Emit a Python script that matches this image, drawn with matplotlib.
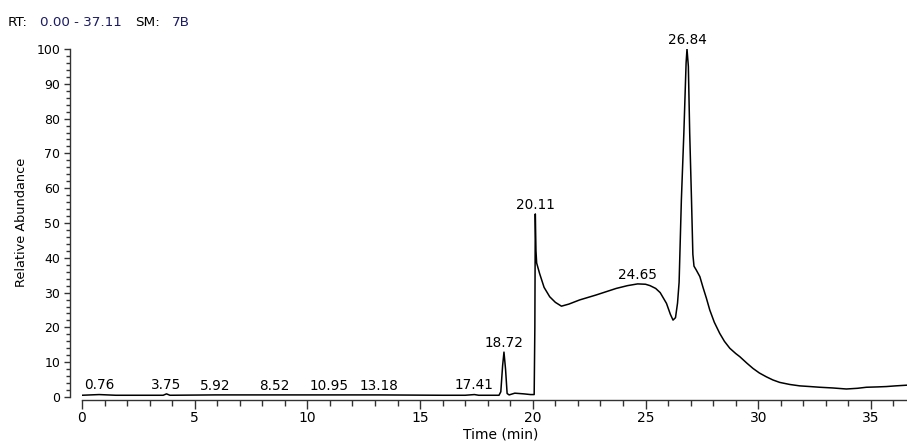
import numpy as np
import matplotlib
matplotlib.use("Agg")
import matplotlib.pyplot as plt
from matplotlib.ticker import MultipleLocator

plt.rcParams['font.family'] = ['DejaVu Sans']

# Chromatogram trace (time in min, relative abundance in %)
time_min = [0.0, 0.76, 1.5, 3.0, 3.6, 3.75, 3.9, 5.92, 8.52, 10.95, 13.18, 16.0, 17.0,
            17.41, 17.6, 18.5, 18.58, 18.66, 18.72, 18.79, 18.86, 18.95, 19.2, 19.6,
            19.9, 20.06, 20.09, 20.11, 20.14, 20.17, 20.3, 20.5, 20.75, 21.0, 21.27,
            21.6, 22.08, 22.8, 23.7, 24.2, 24.65, 25.0, 25.2, 25.45, 25.65, 25.93,
            26.1, 26.22, 26.33, 26.42, 26.49, 26.59, 26.70, 26.80, 26.84, 26.90,
            26.96, 27.04, 27.10, 27.15, 27.25, 27.41, 27.55, 27.70, 27.85, 28.05,
            28.29, 28.5, 28.74, 29.0, 29.18, 29.5, 29.77, 30.05, 30.36, 30.65, 30.95,
            31.4, 31.84, 32.3, 32.73, 33.3, 33.91, 34.4, 34.8, 35.3, 35.68, 36.1,
            36.6, 37.11]
abundance = [0.5, 0.7, 0.5, 0.5, 0.5, 0.9, 0.5, 0.6, 0.6, 0.6, 0.6, 0.5, 0.5,
             0.7, 0.5, 0.5, 1.5, 9.0, 12.9, 8.0, 1.0, 0.6, 1.1, 0.9,
             0.7, 0.7, 20.0, 52.6, 42.0, 38.5, 35.5, 31.5, 28.8, 27.2, 26.1,
             26.7, 27.9, 29.3, 31.2, 32.0, 32.5, 32.4, 32.0, 31.2, 30.0, 26.9,
             23.8, 22.1, 22.8, 27.0, 33.0, 56.6, 75.8, 96.0, 100.0, 95.0,
             75.8, 56.6, 41.0, 37.6, 36.5, 34.6, 31.5, 28.4, 25.0, 21.5,
             18.3, 16.0, 14.0, 12.5, 11.6, 9.7, 8.2, 6.9, 5.8, 4.9, 4.2,
             3.6, 3.2, 3.0, 2.8, 2.6, 2.3, 2.5, 2.8, 2.9, 3.0, 3.2,
             3.4, 3.4]

peak_labels = [0.76, 3.75, 5.92, 8.52, 10.95, 13.18, 17.41, 18.72, 20.11, 24.65, 26.84]

x_ticks = [0, 5, 10, 15, 20, 25, 30, 35]
y_ticks = [0, 10, 20, 30, 40, 50, 60, 70, 80, 90, 100]

W, H = 907, 443
fig = plt.figure(figsize=(W / 100, H / 100), dpi=100)
ax = fig.add_axes([82 / W, (H - 397) / H, 825 / W, 348 / H])

ax.plot(time_min, abundance, color='black', lw=1.1)
ax.set_xlim(0, 36.6)
ax.set_ylim(0, 100)

for s in ['top', 'right']:
    ax.spines[s].set_visible(False)
ax.spines['left'].set_position(('outward', 8.6))
ax.spines['bottom'].set_position(('outward', 2.2))
for s in ['left', 'bottom']:
    ax.spines[s].set_color('#333333')
    ax.spines[s].set_linewidth(1.0)

ax.set_xticks(x_ticks)
ax.set_yticks(y_ticks)
ax.xaxis.set_minor_locator(MultipleLocator(1))
ax.yaxis.set_minor_locator(MultipleLocator(2))
ax.tick_params(axis='x', which='major', direction='out', length=6.5, width=1.0,
               color='#333333', labelsize=10, pad=1.5)
ax.tick_params(axis='x', which='minor', direction='out', length=4, width=1.0, color='#333333')
ax.tick_params(axis='y', which='major', direction='out', length=4.5, width=1.0,
               color='#333333', labelsize=9, pad=2.5)
ax.tick_params(axis='y', which='minor', direction='out', length=3, width=1.0, color='#333333')

# peak labels
for t in peak_labels:
    v = np.interp(t, time_min, abundance)
    ax.annotate(f"{t:.2f}", xy=(t, v), xytext=(0, 1.5), textcoords='offset points',
                ha='center', va='bottom', fontsize=9.8, color='black')

# axis labels
fig.text(22 / W, 1 - 222 / H, "Relative Abundance", rotation=90, ha='center', va='center',
         fontsize=9.3)
fig.text(501 / W, 1 - 435 / H, "Time (min)", ha='center', va='center', fontsize=10)

# header
navy = '#1c1c66'
ty = 1 - 23 / H
fig.text(8 / W, ty, "RT:", ha='left', va='center', fontsize=9.7, color='black')
fig.text(40 / W, ty, "0.00 - 37.11", ha='left', va='center', fontsize=9.7, color=navy)
fig.text(135 / W, ty, "SM:", ha='left', va='center', fontsize=9.7, color='black')
fig.text(172 / W, ty, "7B", ha='left', va='center', fontsize=9.7, color=navy)

fig.savefig("out.png", dpi=100)
